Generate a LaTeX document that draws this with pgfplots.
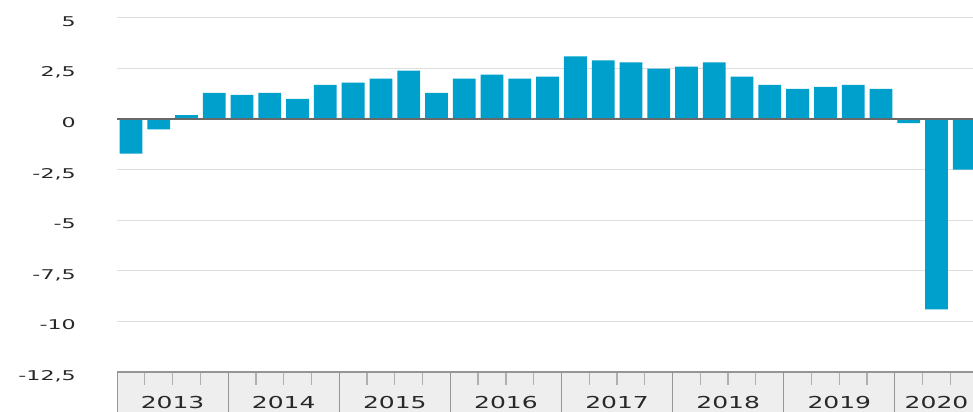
\documentclass[border=0pt]{standalone}
\usepackage{pgfplots}
\pgfplotsset{compat=1.18}
\usepackage{pgfplotstable}
\usepackage{graphicx}
\usepackage{fontspec}
\setmainfont{DejaVu Sans}
\definecolor{barblue}{RGB}{0,160,205}
\definecolor{gridgray}{RGB}{222,222,222}
\definecolor{zerogray}{RGB}{105,105,105}
\definecolor{bandgray}{RGB}{238,238,238}
\definecolor{bandline}{RGB}{150,150,150}
\definecolor{tickgray}{RGB}{175,175,175}
\definecolor{txt}{RGB}{40,40,40}
\newcommand{\sy}[1]{\scalebox{1.65}[1]{#1}}
\newcommand{\sx}[1]{\scalebox{1.52}[1]{#1}}

\pgfplotstableread{
x y
0 -1.7
1 -0.5
2 0.2
3 1.3
4 1.2
5 1.3
6 1.0
7 1.7
8 1.8
9 2.0
10 2.4
11 1.3
12 2.0
13 2.2
14 2.0
15 2.1
16 3.1
17 2.9
18 2.8
19 2.5
20 2.6
21 2.8
22 2.1
23 1.7
24 1.5
25 1.6
26 1.7
27 1.5
28 -0.2
29 -9.4
30 -2.5
}\gdpdata

\begin{document}
\begin{tikzpicture}
\useasboundingbox (0,0) rectangle (973bp,412bp);
\clip (0,0) rectangle (973bp,412bp);
% bottom band (decoration) with year separators and quarter ticks
\fill[bandgray] (117bp,0bp) rectangle (980bp,40bp);
\foreach \k in {0,...,7} {
  \draw[bandline, line width=1bp] ({(117+111.1*\k)*1bp},0bp) -- ({(117+111.1*\k)*1bp},40bp);
  \foreach \q in {1,2,3} {
    \draw[tickgray, line width=1.3bp] ({(117+111.1*\k+27.78*\q)*1bp},40bp) -- ({(117+111.1*\k+27.78*\q)*1bp},27bp);
  }
}
\draw[bandline, line width=1.2bp] (117bp,40bp) -- (980bp,40bp);
\begin{axis}[
  at={(117bp,40bp)}, anchor=south west,
  scale only axis, width=861.2bp, height=354bp,
  xmin=-0.5, xmax=30.5, ymin=-12.5, ymax=5,
  clip=false,
  axis line style={draw=none},
  major tick length=0pt,
  ytick={-10,-7.5,-5,-2.5,0,2.5,5},
  extra y ticks={-12.5}, extra y tick labels={\sy{-12,5}},
  extra y tick style={grid=none},
  yticklabels={\sy{-10},\sy{-7,5},\sy{-5},\sy{-2,5},\sy{0},\sy{2,5},\sy{5}},
  yticklabel style={anchor=base east, inner sep=0pt, xshift=-41bp, yshift=-8.3bp,
    font=\fontsize{13.5}{13.5}\selectfont, text=txt},
  xtick={1.5,5.5,9.5,13.5,17.5,21.5,25.5,29},
  xticklabels={\sx{2013},\sx{2014},\sx{2015},\sx{2016},\sx{2017},\sx{2018},\sx{2019},\sx{2020}},
  xticklabel style={anchor=base, inner sep=0pt, yshift=-36bp,
    font=\fontsize{16.5}{16.5}\selectfont, text=txt},
  ymajorgrids, grid style={gridgray, line width=1bp},
]
\addplot[ybar, bar width=0.82, fill=barblue, draw=none] table[x=x,y=y] {\gdpdata};
\draw[zerogray, line width=2bp] (axis cs:-0.5,0) -- (axis cs:31,0);
\end{axis}
\end{tikzpicture}
\end{document}
